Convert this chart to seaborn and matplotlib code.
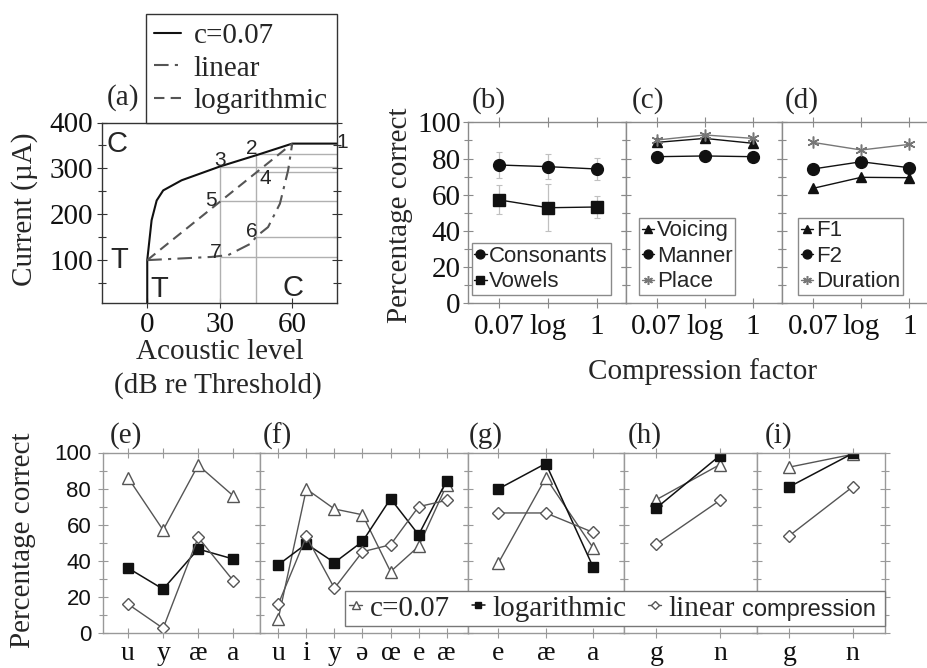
import matplotlib
matplotlib.use("Agg")
import matplotlib.pyplot as plt
from matplotlib.patches import Rectangle
import seaborn as sns

# ---------------------------------------------------------------- data
# (a) electrical current as a function of acoustic level
level_c007 = [0, 0, 1.8, 3.9, 6.6, 14.2, 30, 45.9, 60, 78.4]
current_c007 = [0, 100, 187, 230, 252, 274, 304, 330, 354, 354]
level_log = [0, 60]
current_log = [100, 354]
level_lin = [0, 26.6, 33.5, 43.2, 45, 50, 54.9, 58.3, 60]
current_lin = [100, 107, 111, 137, 151, 172, 223, 296, 354]
ref_level = [45, 30, 45, 30, 45, 30]
ref_current = [331, 304, 292, 228, 151, 107]
ref_names = ["2", "3", "4", "5", "6", "7"]
level_ticks = [0, 30, 60]
current_ticks = [100, 200, 300, 400]

# (b)-(d) percentage correct per compression factor
factors = ["0.07", "log", "1"]
consonants = [76.4, 75.5, 74.2]
consonants_sd = [7, 7, 6]
vowels = [57.1, 52.8, 53.2]
vowels_sd = [8, 13, 6]
voicing = [88.9, 91.1, 88.4]
manner = [81.0, 81.4, 81.0]
place = [90.2, 93.0, 91.1]
f1 = [63.5, 69.6, 69.4]
f2 = [74.2, 78.2, 74.9]
duration = [88.9, 84.7, 87.8]

# (e)-(i) percentage correct per phoneme
phon_e = ["u", "y", "æ", "a"]
e_c007 = [86, 57, 93, 76]
e_log = [36, 24.3, 46.5, 41]
e_lin = [16, 2.6, 53, 29]
phon_f = ["u", "i", "y", "ə", "œ", "e", "æ"]
f_c007 = [8, 79.8, 68.7, 65.5, 34, 48, 82]
f_log = [37.8, 49.4, 39, 50.7, 74.4, 54.4, 84.4]
f_lin = [16, 53.5, 24.8, 45, 48.9, 70, 73.5]
phon_g = ["e", "æ", "a"]
g_c007 = [38.7, 86, 47]
g_log = [79.8, 93.9, 36.3]
g_lin = [66.5, 66.5, 55.7]
phon_h = ["g", "n"]
h_c007 = [73.9, 93.3]
h_log = [69.3, 98.3]
h_lin = [49.3, 73.5]
phon_i = ["g", "n"]
i_c007 = [91.9, 99.0]
i_log = [81.0, 99.5]
i_lin = [53.9, 81.0]

# ---------------------------------------------------------------- style
sns.set_theme(style="white")
SERIF = ["Liberation Serif", "DejaVu Serif"]
SANS = ["Liberation Sans", "DejaVu Sans"]
plt.rcParams["font.family"] = SERIF
plt.rcParams["axes.linewidth"] = 1.0

W, H = 928, 668
fig = plt.figure(figsize=(W / 100, H / 100), dpi=100)
fig.patch.set_facecolor("white")

SER = 21      # serif text size
SANSZ = 16    # sans text size


def px_axes(left, right, top, bottom):
    return fig.add_axes([left / W, 1 - bottom / H, (right - left) / W, (bottom - top) / H])


def frame(ax, color):
    ax.set_facecolor("white")
    for s in ax.spines.values():
        s.set_visible(True)
        s.set_color(color)
        s.set_linewidth(1.0)
    ax.tick_params(which="both", direction="inout", color=color, width=0.8,
                   labelcolor="#111")
    ax.tick_params(which="major", length=7)
    ax.tick_params(which="minor", length=6)
    ax.set_xlabel("")
    ax.set_ylabel("")


def draw(ax, xs, ys, label, color, marker=None, ms=7, mfc=None, mec=None,
         lw=1.0, ls="-", mew=1.0):
    sns.lineplot(x=list(xs), y=list(ys), ax=ax, estimator=None, sort=False,
                 errorbar=None, legend=False, label=label, color=color,
                 marker=marker, markersize=ms,
                 markerfacecolor=mfc if mfc is not None else color,
                 markeredgecolor=mec if mec is not None else color,
                 markeredgewidth=mew, linewidth=lw, linestyle=ls)
    return ax.get_lines()[-1]


# ---------------------------------------------------------------- (a)
ax_a = px_axes(102.3, 336.7, 122.5, 302.8)
x_left, x_right, y_low = -18.6, 78.4, 7
ax_a.vlines([30, 45], y_low, [304, 331], color="#b0b0b0", lw=1.0, zorder=1)
ax_a.hlines(ref_current, ref_level, x_right, color="#b0b0b0", lw=1.0, zorder=1)
line_c = draw(ax_a, level_c007, current_c007, "c=0.07", "#111111", lw=1.5)
line_lin = draw(ax_a, level_lin, current_lin, "linear", "#555555", lw=1.5,
                ls=(0, (7, 3, 1.5, 3)))
line_log = draw(ax_a, level_log, current_log, "logarithmic", "#555555", lw=1.5,
                ls=(0, (5, 3)))
frame(ax_a, "#333333")
ax_a.set_xlim(x_left, x_right)
ax_a.set_ylim(y_low, 400)
ax_a.set_xticks(level_ticks, labels=[str(v) for v in level_ticks], fontsize=SER)
ax_a.set_yticks(current_ticks, labels=[str(v) for v in current_ticks], fontsize=SER)
ax_a.set_yticks([50, 150, 250, 350], minor=True)
ax_a.tick_params(axis="x", bottom=True, top=False, pad=3)
ax_a.tick_params(axis="y", which="both", left=True, right=True, pad=3)

for nm, xv, yv, off in zip(ref_names, ref_level, ref_current,
                           [(-3, 4), (0, 4), (7, -5), (-6, 1), (-3, 4), (-3, 3)]):
    ax_a.annotate(nm, (xv, yv), xytext=off, textcoords="offset points",
                  ha="center", va="center", family=SANS, fontsize=15)
ax_a.annotate("1", (level_c007[-1], current_c007[-1]), xytext=(4, 1),
              textcoords="offset points", ha="center", va="center",
              family=SANS, fontsize=15, annotation_clip=False)
ax_a.text(-12.6, 354, "C", family=SANS, fontsize=21, ha="center", va="center")
ax_a.text(-11.4, 100, "T", family=SANS, fontsize=21, ha="center", va="center")
ax_a.text(4.8, 37, "T", family=SANS, fontsize=21, ha="center", va="center")
ax_a.text(60.3, 39, "C", family=SANS, fontsize=21, ha="center", va="center")

fig.legend([line_c, line_lin, line_log], ["c=0.07", "linear", "logarithmic"],
           loc="lower right", bbox_to_anchor=(336.7 / W, 1 - 122.5 / H),
           fontsize=SER, frameon=True, fancybox=False, edgecolor="#333333",
           framealpha=1, borderpad=0.3, labelspacing=0.2, handlelength=0.9,
           handletextpad=0.45, borderaxespad=0)

fig.text(25 / W, 1 - 209 / H, "Current (µA)", rotation=90, ha="center",
         va="center", fontsize=SER)
fig.text(220 / W, 1 - 352 / H, "Acoustic level", ha="center", va="center",
         fontsize=SER)
fig.text(218 / W, 1 - 386 / H, "(dB re Threshold)", ha="center", va="center",
         fontsize=SER)
fig.text(107 / W, 1 - 98 / H, "(a)", ha="left", va="center", fontsize=SER)

# ---------------------------------------------------------------- (b)-(d)
top_cols = [(468.3, 625.8), (625.8, 782.0), (782.0, 938.4)]
top_axes = [px_axes(l, r, 122.3, 303.3) for l, r in top_cols]
pos3 = list(range(len(factors)))
ax_b, ax_c, ax_d = top_axes

ax_b.errorbar(pos3, consonants, yerr=consonants_sd, fmt="none", ecolor="#c0c0c0",
              elinewidth=0.9, capsize=2, capthick=0.8, zorder=1)
ax_b.errorbar(pos3, vowels, yerr=vowels_sd, fmt="none", ecolor="#c0c0c0",
              elinewidth=0.9, capsize=2, capthick=0.8, zorder=1)
hb = [draw(ax_b, pos3, consonants, "Consonants", "#111", "o", ms=8.5),
      draw(ax_b, pos3, vowels, "Vowels", "#111", "s", ms=8)]
ASTER = (6, 2, 0)
hc = [draw(ax_c, pos3, voicing, "Voicing", "#111", "^", ms=7.5),
      draw(ax_c, pos3, manner, "Manner", "#111", "o", ms=8.5),
      draw(ax_c, pos3, place, "Place", "#777", ASTER, ms=8.5, mew=1.1)]
hd = [draw(ax_d, pos3, f1, "F1", "#111", "^", ms=7.5),
      draw(ax_d, pos3, f2, "F2", "#111", "o", ms=8.5),
      draw(ax_d, pos3, duration, "Duration", "#777", ASTER, ms=8.5, mew=1.1)]

for k, ax in enumerate(top_axes):
    frame(ax, "#8a8a8a")
    ax.set_xlim(-0.642, 2.602)
    ax.set_ylim(0, 100)
    ax.set_xticks(pos3, labels=factors, fontsize=SER)
    ax.tick_params(axis="x", bottom=True, top=True, pad=4)
    if k == 0:
        ax.set_yticks(range(0, 101, 20), labels=[str(v) for v in range(0, 101, 20)],
                      fontsize=SER)
    else:
        ax.set_yticks(range(0, 101, 20), labels=[])
    ax.set_yticks(range(10, 100, 20), minor=True)
    ax.tick_params(axis="y", which="both", left=True, right=True, pad=2)

leg_kw = dict(prop={"family": SANS, "size": SANSZ}, frameon=True, fancybox=False,
              edgecolor="#8a8a8a", framealpha=1, borderpad=0.12,
              labelspacing=0.2, handlelength=0.55, handletextpad=0.12,
              borderaxespad=0, markerscale=0.75)
fig.legend(hb, ["Consonants", "Vowels"], loc="lower left",
           bbox_to_anchor=(471.7 / W, 1 - 295 / H), **leg_kw)
fig.legend(hc, ["Voicing", "Manner", "Place"], loc="lower left",
           bbox_to_anchor=(639.3 / W, 1 - 295 / H), **leg_kw)
fig.legend(hd, ["F1", "F2", "Duration"], loc="lower left",
           bbox_to_anchor=(798.3 / W, 1 - 295 / H), **leg_kw)

for txt, xl in zip(["(b)", "(c)", "(d)"], [472, 632, 785]):
    fig.text(xl / W, 1 - 101 / H, txt, ha="left", va="center", fontsize=SER)
fig.text(400 / W, 1 - 215 / H, "Percentage correct", rotation=90, ha="center",
         va="center", fontsize=SER)
fig.text(703 / W, 1 - 372 / H, "Compression factor", ha="center", va="center",
         fontsize=SER)

# ---------------------------------------------------------------- (e)-(i)
bottom_cols = [(103, 260), (260, 468.3), (468.3, 624), (624, 756.7), (756.7, 885)]
bottom_sets = [(phon_e, e_c007, e_log, e_lin, (-0.714, 3.763)),
               (phon_f, f_c007, f_log, f_lin, (-0.652, 6.77)),
               (phon_g, g_c007, g_log, g_lin, (-0.632, 2.646)),
               (phon_h, h_c007, h_log, h_lin, (-0.512, 1.58)),
               (phon_i, i_c007, i_log, i_lin, (-0.515, 1.51))]
bottom_handles = None
for k, ((l, r), (labels, yc, yg, yl, xl)) in enumerate(zip(bottom_cols, bottom_sets)):
    ax = px_axes(l, r, 452.5, 633)
    pos = list(range(len(labels)))
    m1 = draw(ax, pos, yc, "c=0.07", "#555555", "^", ms=8.5, mfc="white",
              mec="#555555", lw=1.0)
    m2 = draw(ax, pos, yg, "logarithmic", "#111111", "s", ms=7.5, lw=1.1)
    m3 = draw(ax, pos, yl, "linear", "#555555", "D", ms=6.5, mfc="white",
              mec="#555555", lw=1.0)
    if bottom_handles is None:
        bottom_handles = [m1, m2, m3]
    frame(ax, "#999999")
    ax.set_xlim(*xl)
    ax.set_ylim(0, 100)
    ax.set_xticks(pos, labels=labels, fontsize=20)
    ax.tick_params(axis="x", bottom=True, top=True, pad=2)
    if k == 0:
        ax.set_yticks(range(0, 101, 20), labels=[str(v) for v in range(0, 101, 20)],
                      fontsize=SANSZ, family=SANS)
    else:
        ax.set_yticks(range(0, 101, 20), labels=[])
    ax.set_yticks(range(10, 100, 20), minor=True)
    ax.tick_params(axis="y", which="both", left=True, right=True, pad=5)

for txt, xl in zip(["(e)", "(f)", "(g)", "(h)", "(i)"], [110, 263, 469, 628, 765]):
    fig.text(xl / W, 1 - 436 / H, txt, ha="left", va="center", fontsize=SER)
fig.text(23 / W, 1 - 540 / H, "Percentage correct", rotation=90, ha="center",
         va="center", fontsize=SER)

# shared legend of the bottom row; its frame is drawn separately so that the
# last entry can end with the word "compression" in a sans face
leg = fig.legend(bottom_handles, ["c=0.07", "logarithmic", "linear"],
                 loc="center left", bbox_to_anchor=(345 / W, 1 - 608.5 / H),
                 fontsize=SER, frameon=False, handlelength=0.45,
                 handletextpad=0.25, columnspacing=0.75, ncol=3,
                 borderpad=0.15, borderaxespad=0, markerscale=0.65)
leg.set_zorder(10)

fig.canvas.draw()
renderer = fig.canvas.get_renderer()
to_fig = fig.transFigure.inverted()
lin_text = leg.get_texts()[2]
props = lin_text.get_fontproperties()
bb_lin = lin_text.get_window_extent(renderer)
bb_leg = leg.get_window_extent(renderer)
lp_desc = renderer.get_text_width_height_descent("lp", props, ismath=False)[2]
cx, cy = to_fig.transform((bb_lin.x1 + 7, bb_lin.y0 + lp_desc))
comp = fig.text(cx, cy, "compression", family=SANS, fontsize=17, ha="left",
                va="baseline", zorder=11)
bb_comp = comp.get_window_extent(renderer)
x0, y0 = to_fig.transform((bb_leg.x0, bb_leg.y0))
x1, y1 = to_fig.transform((bb_comp.x1 + 9, bb_leg.y1))
box = Rectangle((x0, y0), x1 - x0, y1 - y0, transform=fig.transFigure,
                facecolor="white", edgecolor="#777777", linewidth=1.0, zorder=9)
fig.add_artist(box)

fig.savefig("out.png", dpi=100)
